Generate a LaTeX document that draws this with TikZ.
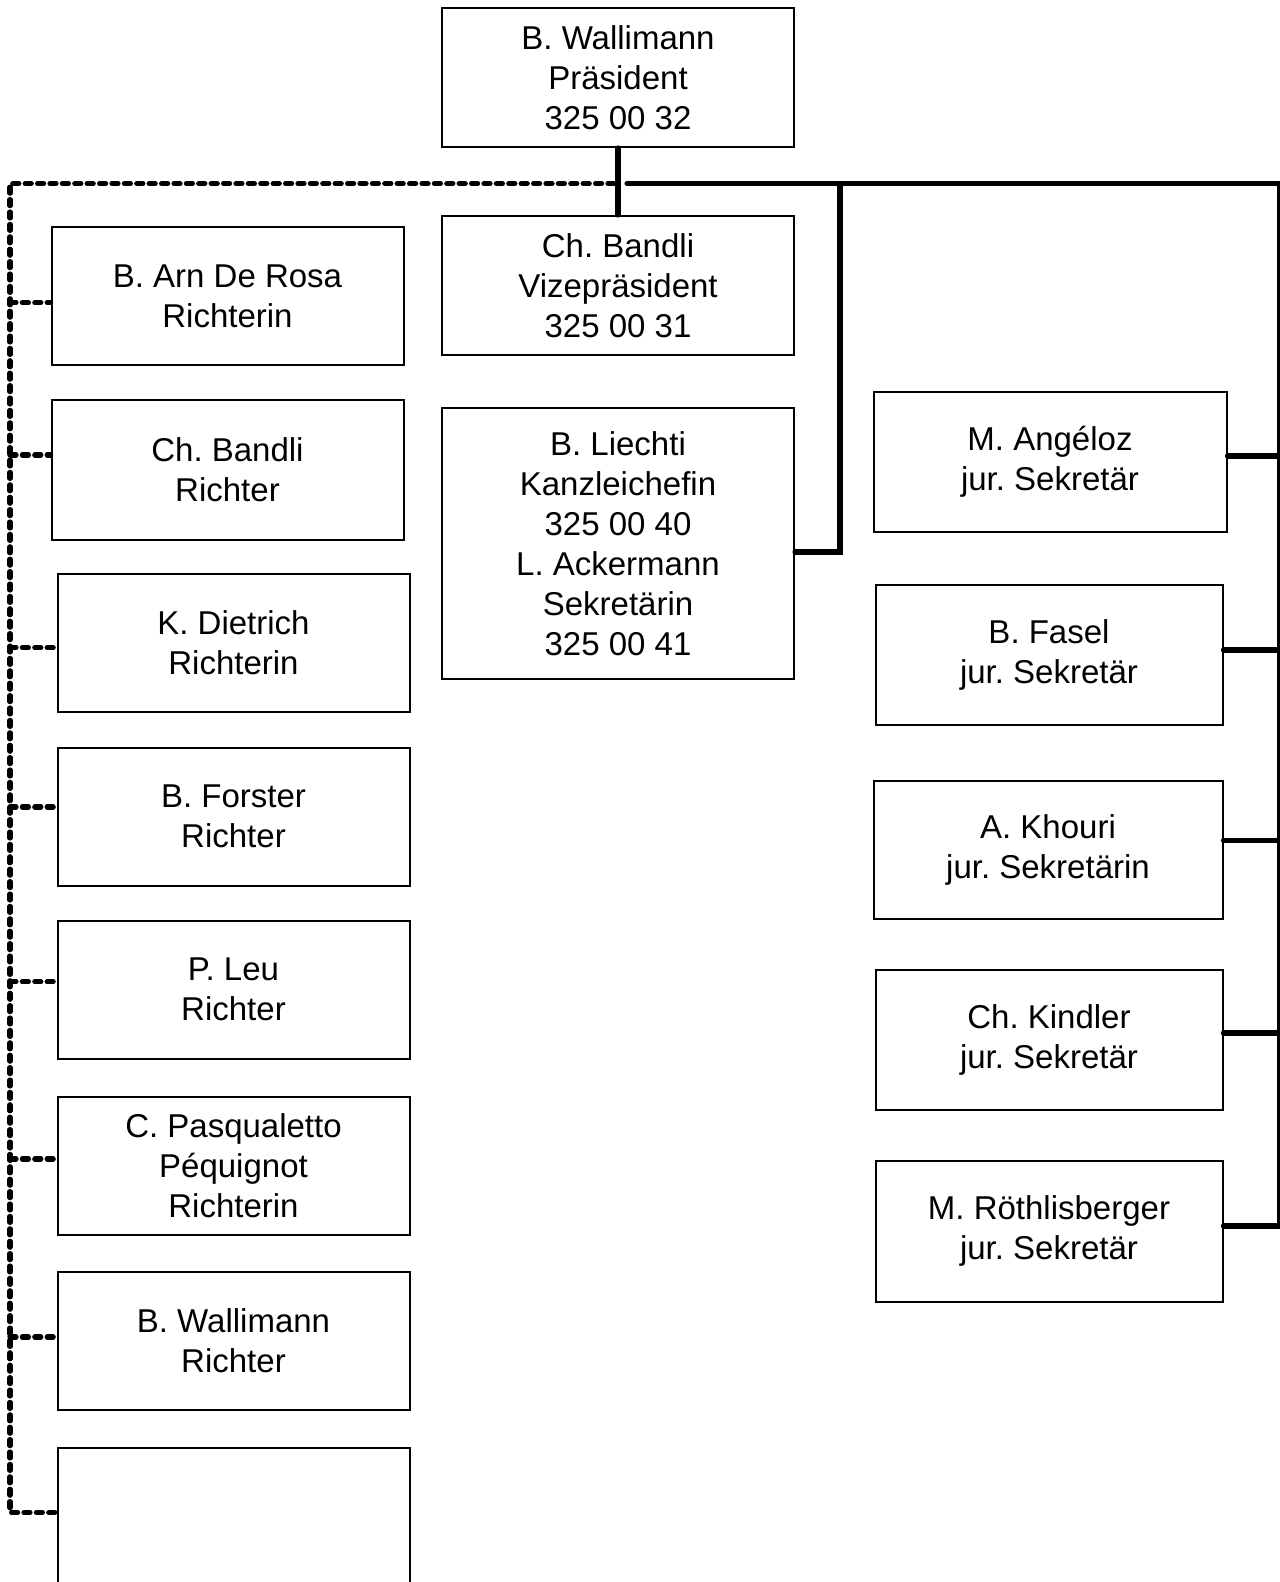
\documentclass[tikz,border=0pt]{standalone}
\usepackage{fontspec}
\setmainfont{Liberation Sans}
\begin{document}
\frenchspacing
\begin{tikzpicture}[x={(0.5pt,0)},y={(0,-0.5pt)},
  box/.style={draw,line width=1pt,inner sep=0pt,align=center,
    font=\frenchspacing\fontsize{16.5}{20}\selectfont,minimum width=176pt,minimum height=69pt},
  solidline/.style={line width=2.6pt,line cap=round},
  dashline/.style={line width=2.6pt,line cap=round,dash pattern=on 3pt off 3.2pt}]
\useasboundingbox (0,0) rectangle (1279,1582);
% middle column
\node[box,minimum height=69.5pt] (pres) at (618,77.5) {B. Wallimann\\Präsident\\325 00 32};
\node[box,minimum height=69.5pt] (vize) at (618,285.5) {Ch. Bandli\\Vizepräsident\\325 00 31};
\node[box,minimum height=135.75pt] (lie) at (618,543.3) {B. Liechti\\Kanzleichefin\\325 00 40\\L. Ackermann\\Sekretärin\\325 00 41};
% left column
\node[box] (a1) at (227.5,296.5) {B. Arn De Rosa\\Richterin};
\node[box,minimum height=70.25pt] (a2) at (227.5,469.8) {Ch. Bandli\\Richter};
\node[box] (a3) at (233.5,642.5) {K. Dietrich\\Richterin};
\node[box] (a4) at (233.5,816.8) {B. Forster\\Richter};
\node[box] (a5) at (233.5,989.5) {P. Leu\\Richter};
\node[box] (a6) at (233.5,1165.5) {C. Pasqualetto\\Péquignot\\Richterin};
\node[box] (a7) at (233.5,1341) {B. Wallimann\\Richter};
\node[box] (a8) at (233.5,1517) {};
% right column
\node[box,minimum width=176.5pt,minimum height=70.25pt] (b1) at (1050,461.8) {M. Angéloz\\jur. Sekretär};
\node[box,minimum width=173.5pt,minimum height=70pt] (b2) at (1049,655) {B. Fasel\\jur. Sekretär};
\node[box,minimum width=174.5pt] (b3) at (1048,850) {A. Khouri\\jur. Sekretärin};
\node[box,minimum width=173.5pt,minimum height=70.25pt] (b4) at (1049,1039.8) {Ch. Kindler\\jur. Sekretär};
\node[box,minimum width=173.5pt,minimum height=70.25pt] (b5) at (1049,1231.3) {M. Röthlisberger\\jur. Sekretär};
% bus coordinates
\coordinate (bl) at (10,183.6);
\coordinate (bm) at (614,183.6);
\coordinate (bs) at (627,183.6);
\coordinate (br) at (1280,183.6);
\coordinate (s1) at (10,302.7);
\coordinate (s2) at (10,455);
\coordinate (s3) at (10,647.7);
\coordinate (s4) at (10,807);
\coordinate (s5) at (10,981.7);
\coordinate (s6) at (10,1159);
\coordinate (s7) at (10,1337);
\coordinate (s8) at (10,1512.4);
\coordinate (r1) at (1280,456);
\coordinate (r2) at (1280,650);
\coordinate (r3) at (1280,840.4);
\coordinate (r4) at (1280,1033);
\coordinate (r5) at (1280,1226);
\coordinate (k1) at (840,552);
% connectors
\draw[solidline] (pres.south) -- (vize.north);
\draw[dashline] (bm) -- (bl) -- (s8) -- (s8 -| a8.west);
\foreach \i in {1,...,7} {\draw[dashline] (s\i) -- (s\i -| a\i.west);}
\draw[solidline] (bs) -- (br) -- (r5);
\foreach \i in {1,...,5} {\draw[solidline] (r\i -| b\i.east) -- (r\i);}
\draw[solidline] (k1 -| lie.east) -- (k1) -- (k1 |- bs);
\end{tikzpicture}
\end{document}
